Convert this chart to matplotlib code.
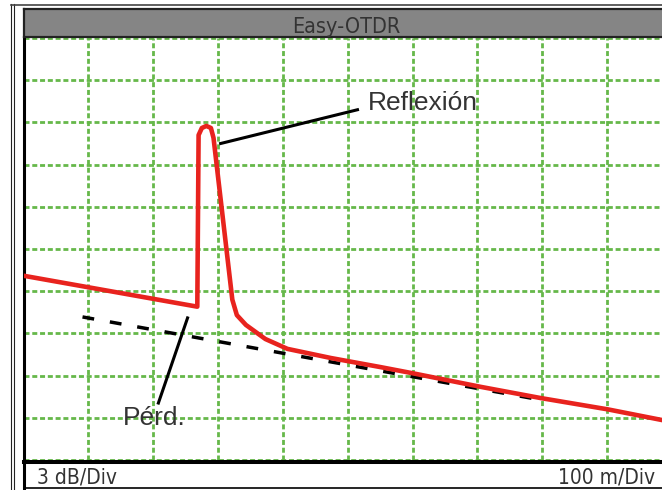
import matplotlib.pyplot as plt
from matplotlib.lines import Line2D

# OTDR trace: distance (m) and level (dB)
trace_dist = [0, 268, 270, 275, 282, 289, 293, 322, 329, 343, 373, 407,
              474, 551, 602, 705, 798, 901, 1000]
trace_db = [13.1, 10.9, 23.1, 23.6, 23.75, 23.6, 22.9, 11.4, 10.3, 9.6, 8.6,
            7.9, 7.25, 6.6, 6.15, 5.2, 4.4, 3.6, 2.7]

# extrapolated backscatter (no event)
base_dist = [91, 798]
base_db = [10.17, 4.27]

x_div = 100   # m per division
y_div = 3     # dB per division
n_div = 10

W, H = 662, 490

def rect(x0, y0, x1, y1):
    # pixel box -> figure fraction
    return [x0 / W, 1 - y1 / H, (x1 - x0) / W, (y1 - y0) / H]

fig = plt.figure(figsize=(W / 100, H / 100), dpi=100)
fig.patch.set_facecolor('white')

# main screen
ax = fig.add_axes(rect(23.5, 38, 672, 460))
ax.set_xlim(0, n_div * x_div)
ax.set_ylim(0, n_div * y_div)
ax.set_xticks([i * x_div for i in range(n_div + 1)])
ax.set_yticks([i * y_div for i in range(n_div + 1)])
ax.tick_params(length=0, labelbottom=False, labelleft=False)
ax.grid(True, color='#66b84a', linewidth=2.0, linestyle=(0, (1.8, 1.0)))
ax.set_axisbelow(True)
for s in ['top', 'right', 'bottom']:
    ax.spines[s].set_visible(False)
ax.spines['left'].set_linewidth(2.2)
ax.spines['left'].set_color('black')

ax.plot(base_dist, base_db, color='black', linewidth=2.5,
        linestyle=(0, (3.4, 4.6)), zorder=3)
ax.plot(trace_dist, trace_db, color='#e8231e', linewidth=3.3,
        solid_joinstyle='round', solid_capstyle='round', zorder=4)

# leader lines and labels
ax.plot([304, 515], [22.5, 24.9], color='black', linewidth=2.2, zorder=5)
ax.text(531, 24.9, 'Reflexión', fontsize=19, family='Liberation Sans',
        color='#333333', va='baseline', ha='left', zorder=6)
ax.plot([253, 208], [10.1, 4.05], color='black', linewidth=2.2, zorder=5)
ax.text(154, 2.5, 'Pérd.', fontsize=19, family='Liberation Sans',
        color='#333333', va='baseline', ha='left', zorder=6)

# title bar
tb = fig.add_axes(rect(23.5, 9.5, 672, 37))
tb.set_facecolor('#858585')
tb.set_xticks([])
tb.set_yticks([])
for s in tb.spines.values():
    s.set_color('#222222')
    s.set_linewidth(1.6)
narrow = dict(family='DejaVu Sans', stretch='condensed', color='#333333')
fig.text(346 / W, 1 - 33 / H, 'Easy-OTDR', fontsize=15.5,
         ha='center', va='baseline', **narrow)

# status bar
sb = fig.add_axes(rect(23.5, 462, 672, 487.5))
sb.set_facecolor('white')
sb.set_xticks([])
sb.set_yticks([])
sb.spines['top'].set_linewidth(2.9)
sb.spines['bottom'].set_linewidth(1.2)
sb.spines['left'].set_linewidth(2.2)
for s in sb.spines.values():
    s.set_color('black')
fig.text(37 / W, 1 - 483 / H, '3 dB/Div', fontsize=15,
         ha='left', va='baseline', **narrow)
fig.text(655 / W, 1 - 483 / H, '100 m/Div', fontsize=15,
         ha='right', va='baseline', **narrow)

# outer double frame
for xp in (10.5, 13.8):
    fig.add_artist(Line2D([xp / W, xp / W], [0, 1 - 4.5 / H],
                          transform=fig.transFigure, color='#222222', lw=0.8))
fig.add_artist(Line2D([10.5 / W, 1], [1 - 5 / H, 1 - 5 / H],
                      transform=fig.transFigure, color='#444444', lw=1.2))

fig.savefig('out.png', dpi=100)
